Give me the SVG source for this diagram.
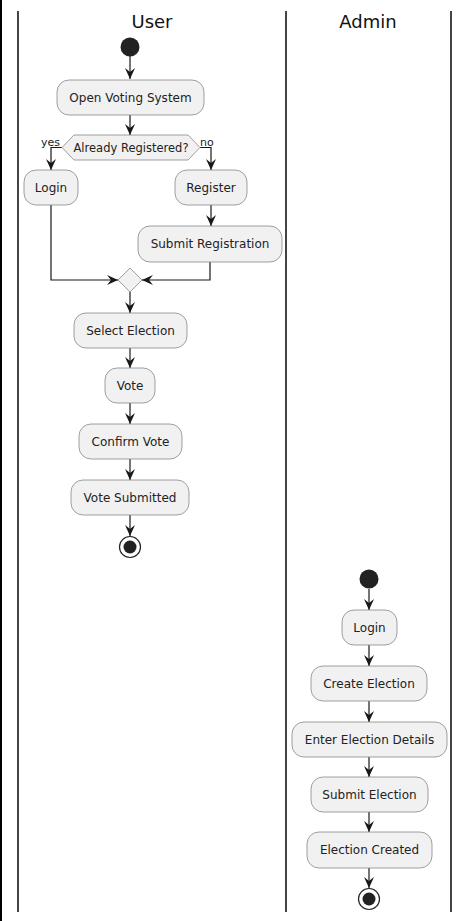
<svg xmlns="http://www.w3.org/2000/svg" width="465" height="921" viewBox="0 0 465 921">
<style>
.lane{stroke:#444;stroke-width:2;fill:none}
.box{fill:#F1F1F1;stroke:#888;stroke-width:0.8}
.t{font-family:"DejaVu Sans",sans-serif;font-size:12px;fill:#222;text-anchor:middle}
.title{font-family:"DejaVu Sans",sans-serif;font-size:18px;fill:#111;text-anchor:middle}
.lbl{font-family:"DejaVu Sans",sans-serif;font-size:11px;fill:#222}
.ln{stroke:#181818;stroke-width:1.2;fill:none}
.ah{fill:#181818}
</style>
<defs>
<marker id="arr" viewBox="0 0 11 10" refX="11" refY="5" markerWidth="11" markerHeight="10" markerUnits="userSpaceOnUse" orient="auto">
<path d="M0,0 L11,5 L0,10 L4,5 Z" class="ah"/>
</marker>
</defs>
<rect x="0" y="0" width="465" height="921" fill="#fff"/>
<rect x="0" y="0" width="2" height="921" fill="#000"/>
<g id="lanes">
<line class="lane" x1="18" y1="11" x2="18" y2="912"/>
<line class="lane" x1="286" y1="11" x2="286" y2="912"/>
<line class="lane" x1="451" y1="11" x2="451" y2="912"/>
<text class="title" x="152" y="28">User</text>
<text class="title" x="368" y="28">Admin</text>
</g>
<g id="connectors">
<line class="ln" x1="130" y1="56" x2="130" y2="79" marker-end="url(#arr)"/>
<line class="ln" x1="130" y1="115" x2="130" y2="135" marker-end="url(#arr)"/>
<polyline class="ln" points="62,147.5 51,147.5 51,170" marker-end="url(#arr)"/>
<polyline class="ln" points="200,147.5 211,147.5 211,170" marker-end="url(#arr)"/>
<line class="ln" x1="211" y1="205" x2="211" y2="226" marker-end="url(#arr)"/>
<polyline class="ln" points="51,205 51,280 118,280" marker-end="url(#arr)"/>
<polyline class="ln" points="210,262 210,280 142,280" marker-end="url(#arr)"/>
<line class="ln" x1="130" y1="292" x2="130" y2="313" marker-end="url(#arr)"/>
<line class="ln" x1="130" y1="348" x2="130" y2="368" marker-end="url(#arr)"/>
<line class="ln" x1="130" y1="403" x2="130" y2="424" marker-end="url(#arr)"/>
<line class="ln" x1="130" y1="459" x2="130" y2="480" marker-end="url(#arr)"/>
<line class="ln" x1="130" y1="515" x2="130" y2="536" marker-end="url(#arr)"/>
<line class="ln" x1="369" y1="589" x2="369" y2="610" marker-end="url(#arr)"/>
<line class="ln" x1="369" y1="645" x2="369" y2="666" marker-end="url(#arr)"/>
<line class="ln" x1="369" y1="701" x2="369" y2="722" marker-end="url(#arr)"/>
<line class="ln" x1="369" y1="757" x2="369" y2="777" marker-end="url(#arr)"/>
<line class="ln" x1="369" y1="812" x2="369" y2="832" marker-end="url(#arr)"/>
<line class="ln" x1="369" y1="868" x2="369" y2="888" marker-end="url(#arr)"/>
</g>
<g id="user-start"><circle cx="130" cy="47" r="9.5" fill="#222"/></g>
<g id="open-voting"><rect class="box" x="57" y="80" width="147" height="35" rx="12"/><text class="t" x="130.5" y="102">Open Voting System</text></g>
<g id="already-registered">
<polygon class="box" points="62,147.5 74,135 188,135 200,147.5 188,160 74,160"/>
<text class="t" x="131" y="152" style="font-size:11.5px">Already Registered?</text>
<text class="lbl" x="41" y="146">yes</text>
<text class="lbl" x="200" y="146">no</text>
</g>
<g id="user-login"><rect class="box" x="24" y="170" width="54" height="35" rx="12"/><text class="t" x="51" y="192">Login</text></g>
<g id="register"><rect class="box" x="175" y="170" width="72" height="35" rx="12"/><text class="t" x="211" y="192">Register</text></g>
<g id="submit-registration"><rect class="box" x="138" y="226" width="144" height="36" rx="12"/><text class="t" x="210" y="248">Submit Registration</text></g>
<g id="merge"><polygon class="box" points="130,268 142,280 130,292 118,280"/></g>
<g id="select-election"><rect class="box" x="74" y="313" width="113" height="35" rx="12"/><text class="t" x="130.5" y="335">Select Election</text></g>
<g id="vote"><rect class="box" x="105" y="368" width="50" height="35" rx="12"/><text class="t" x="130" y="390">Vote</text></g>
<g id="confirm-vote"><rect class="box" x="79" y="424" width="103" height="35" rx="12"/><text class="t" x="130.5" y="446">Confirm Vote</text></g>
<g id="vote-submitted"><rect class="box" x="71" y="480" width="118" height="35" rx="12"/><text class="t" x="130" y="502">Vote Submitted</text></g>
<g id="user-end"><circle cx="130" cy="547" r="10.5" fill="#fff" stroke="#222" stroke-width="1.2"/><circle cx="130" cy="547" r="6.5" fill="#222"/></g>
<g id="admin-start"><circle cx="369" cy="579" r="9.5" fill="#222"/></g>
<g id="admin-login"><rect class="box" x="342" y="610" width="55" height="35" rx="12"/><text class="t" x="369.5" y="632">Login</text></g>
<g id="create-election"><rect class="box" x="311" y="666" width="116" height="35" rx="12"/><text class="t" x="369" y="688">Create Election</text></g>
<g id="enter-details"><rect class="box" x="292" y="722" width="155" height="35" rx="12"/><text class="t" x="369.5" y="744">Enter Election Details</text></g>
<g id="submit-election"><rect class="box" x="311" y="777" width="117" height="35" rx="12"/><text class="t" x="369.5" y="799">Submit Election</text></g>
<g id="election-created"><rect class="box" x="307" y="832" width="125" height="36" rx="12"/><text class="t" x="369.5" y="854">Election Created</text></g>
<g id="admin-end"><circle cx="369" cy="899" r="10.5" fill="#fff" stroke="#222" stroke-width="1.2"/><circle cx="369" cy="899" r="6.5" fill="#222"/></g>
</svg>
